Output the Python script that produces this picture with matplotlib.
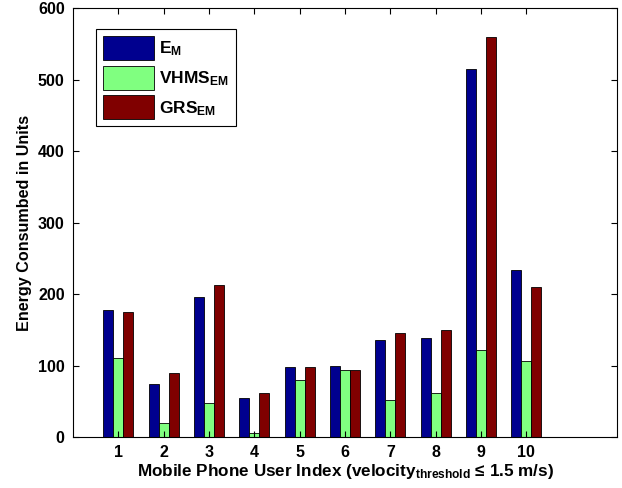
import matplotlib
matplotlib.use('Agg')
import matplotlib.pyplot as plt
import numpy as np

plt.rcParams['font.family'] = ['Liberation Sans', 'DejaVu Sans']
plt.rcParams['font.weight'] = 'bold'
plt.rcParams['mathtext.fontset'] = 'custom'
plt.rcParams['mathtext.rm'] = 'Liberation Sans:bold'
plt.rcParams['mathtext.bf'] = 'Liberation Sans:bold'
plt.rcParams['mathtext.it'] = 'Liberation Sans:bold'
plt.rcParams['mathtext.default'] = 'bf'

users = [1, 2, 3, 4, 5, 6, 7, 8, 9, 10]
e_m = [177, 74, 196, 54, 98, 100, 135, 138, 514, 234]
vhms_em = [110, 19, 47, 5, 80, 94, 52, 61, 122, 106]
grs_em = [175, 89, 212, 61, 98, 94, 145, 149, 560, 210]

fig = plt.figure(figsize=(6.22, 4.88), dpi=100)
ax = fig.add_axes([0.1174, 0.1045, 0.8746, 0.8791])

x = np.array(users)
w = 0.22
ax.bar(x - w, e_m, w, color='#00008F', edgecolor='black', linewidth=0.6, label='$E_{M}$')
ax.bar(x, vhms_em, w, color='#80FF80', edgecolor='black', linewidth=0.6, label='$VHMS_{EM}$')
ax.bar(x + w, grs_em, w, color='#800000', edgecolor='black', linewidth=0.6, label='$GRS_{EM}$')

ax.set_xlim(0, 12)
ax.set_ylim(0, 600)
ax.set_xticks(users)
ax.set_yticks([0, 100, 200, 300, 400, 500, 600])
ax.tick_params(direction='in', top=True, right=True, labelsize=11.5, length=4, pad=6)
for lab in ax.get_xticklabels() + ax.get_yticklabels():
    lab.set_fontweight('bold')

ax.set_xlabel('Mobile Phone User Index (velocity$_{threshold}$ \u2264 1.5 m/s)',
              fontsize=12.3, fontweight='bold', labelpad=1)
ax.set_ylabel('Energy Consumbed in Units', fontsize=11.6, fontweight='bold', labelpad=4)

leg = ax.legend(loc='upper left', bbox_to_anchor=(0.042, 0.951), fancybox=False,
                edgecolor='black', fontsize=12.5, handlelength=2.95, handleheight=1.75,
                borderpad=0.4, labelspacing=0.33, handletextpad=0.3, framealpha=1,
                borderaxespad=0)
leg.get_frame().set_linewidth(0.8)

fig.savefig('out.png', dpi=100)
